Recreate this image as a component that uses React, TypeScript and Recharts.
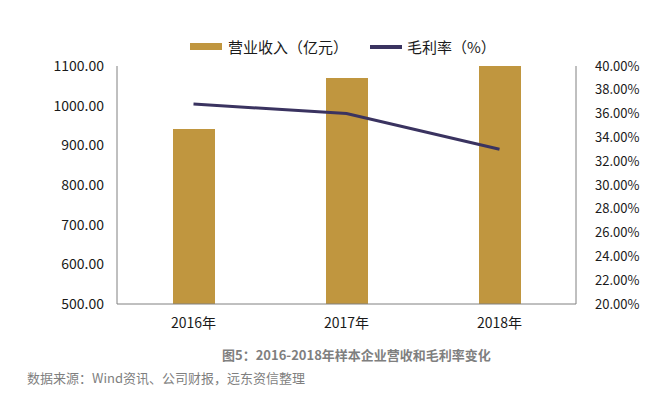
import { ComposedChart, Bar, Line, XAxis, YAxis } from "recharts";

const years = ["2016年", "2017年", "2018年"];
const revenue = [941, 1070, 1104];
const grossMargin = [36.8, 36.0, 33.0];
const revenueTicks = [500, 600, 700, 800, 900, 1000, 1100];
const marginTicks = [20, 22, 24, 26, 28, 30, 32, 34, 36, 38, 40];

const data = years.map((year, i) => ({
  year,
  revenue: revenue[i],
  margin: grossMargin[i],
}));

const FONT = '"Noto Sans CJK SC", "Noto Sans", sans-serif';
const BAR = "#C0963F";
const LINE = "#3A3360";
const AXIS = "#808080";

export default function App() {
  return (
    <div
      style={{
        position: "absolute",
        left: 0,
        top: 0,
        width: 655,
        height: 396,
        background: "#fff",
        fontFamily: FONT,
      }}
    >
      <div
        style={{
          position: "absolute",
          top: 36,
          left: 190,
          display: "flex",
          alignItems: "center",
          fontSize: 15,
          color: "#1a1a1a",
        }}
      >
        <div style={{ width: 32, height: 7, background: BAR, marginRight: 6 }} />
        <span>营业收入（亿元）</span>
        <div style={{ width: 32, height: 4, background: LINE, marginLeft: 22, marginRight: 5 }} />
        <span>毛利率（%）</span>
      </div>
      <ComposedChart
        width={655}
        height={340}
        data={data}
        margin={{ top: 66, right: 0, bottom: 0, left: 0 }}
        style={{ position: "absolute", left: 0, top: 0 }}
      >
        <XAxis
          dataKey="year"
          axisLine={{ stroke: AXIS }}
          tickLine={false}
          height={36}
          tick={{ fill: "#1a1a1a", fontSize: 14, fontFamily: FONT }}
          tickMargin={8}
        />
        <YAxis
          yAxisId="left"
          domain={[500, 1100]}
          ticks={revenueTicks}
          allowDataOverflow
          width={117}
          axisLine={{ stroke: AXIS }}
          tickLine={false}
          tickMargin={7}
          tickFormatter={(v: number) => v.toFixed(2)}
          tick={{ fill: "#1a1a1a", fontSize: 14, fontFamily: FONT }}
        />
        <YAxis
          yAxisId="right"
          orientation="right"
          domain={[20, 40]}
          ticks={marginTicks}
          width={79}
          axisLine={{ stroke: AXIS }}
          tickLine={false}
          tickMargin={13}
          tickFormatter={(v: number) => `${v.toFixed(2)}%`}
          tick={{ fill: "#1a1a1a", fontSize: 13, fontFamily: FONT }}
        />
        <Bar
          yAxisId="left"
          dataKey="revenue"
          fill={BAR}
          barSize={42}
          isAnimationActive={false}
        />
        <Line
          yAxisId="right"
          dataKey="margin"
          stroke={LINE}
          strokeWidth={3}
          dot={false}
          type="linear"
          isAnimationActive={false}
        />
      </ComposedChart>
      <div
        style={{
          position: "absolute",
          top: 345,
          left: 222,
          fontSize: 13,
          fontWeight: "bold",
          color: "#7f7f7f",
        }}
      >
        图5：2016-2018年样本企业营收和毛利率变化
      </div>
      <div
        style={{
          position: "absolute",
          top: 368,
          left: 27,
          fontSize: 13,
          color: "#7f7f7f",
        }}
      >
        数据来源：Wind资讯、公司财报，远东资信整理
      </div>
    </div>
  );
}
